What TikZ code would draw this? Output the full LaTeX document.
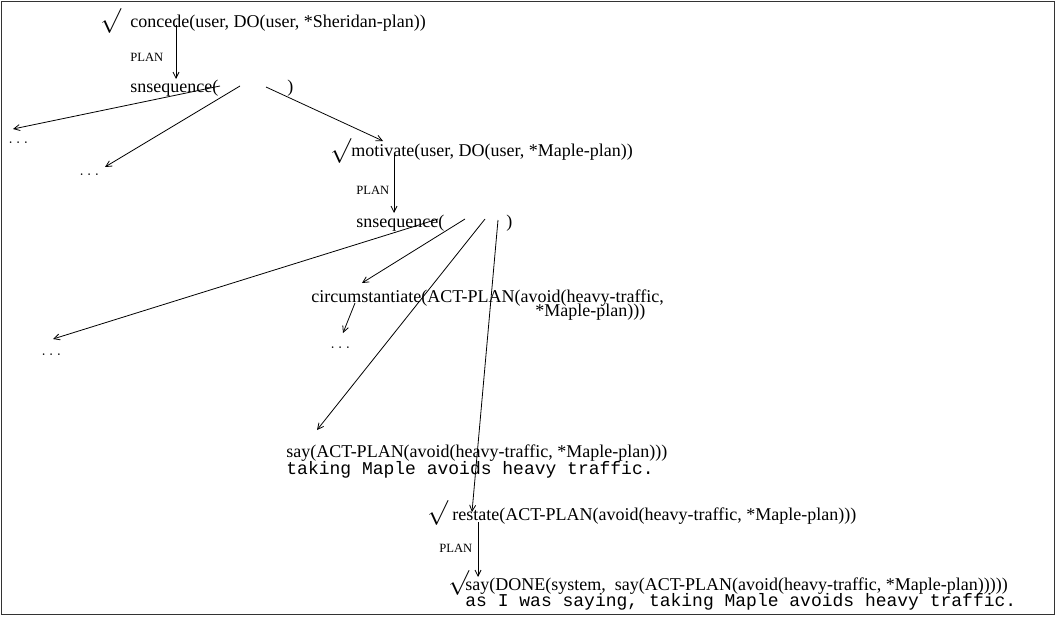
\documentclass[tikz,border=0pt]{standalone}
\usepackage{fontspec}
\setmainfont{Liberation Serif}
\setmonofont{Liberation Mono}
\usetikzlibrary{arrows.meta}

\tikzset{
  goal/.style={anchor=base west, inner sep=0pt, font=\fontsize{18}{20}\selectfont},
  utter/.style={anchor=base west, inner sep=0pt, font=\fontsize{18}{20}\selectfont\ttfamily},
  planlabel/.style={anchor=base west, inner sep=0pt, font=\fontsize{12.6}{14}\selectfont},
  tick/.style={anchor=north west, inner sep=0pt, font=\fontsize{24}{24}\selectfont},
  elided/.style={anchor=base west, inner sep=0pt, font=\fontsize{16}{18}\selectfont},
}

\begin{document}
\begin{tikzpicture}[x=1pt, y=-1pt, line width=0.8pt, >={Straight Barb[length=6pt,width=6pt]}]
\useasboundingbox (0,0) rectangle (1056,616);
\draw[black!80, line width=1pt] (1.5,1.5) rectangle (1054.5,614.5);

% goals
\node[tick] (tickA) at (100,8) {$\surd$};
\node[goal] (concede) at (130,27) {concede(user, DO(user, *Sheridan-plan))};
\node[planlabel] (planA) at (130,61) {PLAN};
\node[goal] (snA) at (130,92) {snsequence(};
\node[goal] (snAclose) at (287,92) {)};
\node[elided] (skipA) at (8,143) {$\ldots$};
\node[elided] (skipB) at (79,175) {$\ldots$};

\node[tick] (tickB) at (330,138) {$\surd$};
\node[goal] (motivate) at (351,156) {motivate(user, DO(user, *Maple-plan))};
\node[planlabel] (planB) at (356,194) {PLAN};
\node[goal] (snB) at (356,227) {snsequence(};
\node[goal] (snBclose) at (506,227) {)};
\node[elided] (skipC) at (41,355) {$\ldots$};

\node[goal] (circ) at (311,302) {circumstantiate(ACT-PLAN(avoid(heavy-traffic,};
\node[goal] (circcont) at (535,316) {*Maple-plan)))};
\node[elided] (skipD) at (330,348) {$\ldots$};

\node[goal] (sayA) at (286,457) {say(ACT-PLAN(avoid(heavy-traffic, *Maple-plan)))};
\node[utter] (sayAtext) at (286,474) {taking Maple avoids heavy traffic.};

\node[tick] (tickC) at (427,500) {$\surd$};
\node[goal] (restate) at (452,520) {restate(ACT-PLAN(avoid(heavy-traffic, *Maple-plan)))};
\node[planlabel] (planC) at (439,552) {PLAN};
\node[tick] (tickD) at (448,570) {$\surd$};
\node[goal] (sayB) at (465,590) {say(DONE(system,\ \ say(ACT-PLAN(avoid(heavy-traffic, *Maple-plan)))))};
\node[utter] (sayBtext) at (465,606) {as I was saying, taking Maple avoids heavy traffic.};

% ends of the arrows
\coordinate (concede-out) at (176,25);
\coordinate (snA-in) at (176,79);
\coordinate (snA-out1) at (220,86);
\coordinate (snA-out2) at (240,86);
\coordinate (snA-out3) at (266,87);
\coordinate (skipA-in) at (13,129);
\coordinate (skipB-in) at (105,167);
\coordinate (motivate-in) at (383,141);
\coordinate (motivate-out) at (394,155);
\coordinate (snB-in) at (394,213);
\coordinate (snB-out1) at (438,219);
\coordinate (snB-out2) at (465,219);
\coordinate (snB-out3) at (485,219);
\coordinate (snB-out4) at (498,220);
\coordinate (skipC-in) at (53,339);
\coordinate (circ-in) at (362,283);
\coordinate (circ-out) at (355,303);
\coordinate (skipD-in) at (343,333);
\coordinate (sayA-in) at (317,430);
\coordinate (restate-in) at (472,512);
\coordinate (restate-out) at (478,522);
\coordinate (sayB-in) at (478,577);

% arrows
\draw[->] (concede-out) -- (snA-in);
\draw[->] (snA-out1) -- (skipA-in);
\draw[->] (snA-out2) -- (skipB-in);
\draw[->] (snA-out3) -- (motivate-in);
\draw[->] (motivate-out) -- (snB-in);
\draw[->] (snB-out1) -- (skipC-in);
\draw[->] (snB-out2) -- (circ-in);
\draw[->] (snB-out3) -- (sayA-in);
\draw[->] (snB-out4) -- (restate-in);
\draw[->] (circ-out) -- (skipD-in);
\draw[->] (restate-out) -- (sayB-in);
\end{tikzpicture}
\end{document}
